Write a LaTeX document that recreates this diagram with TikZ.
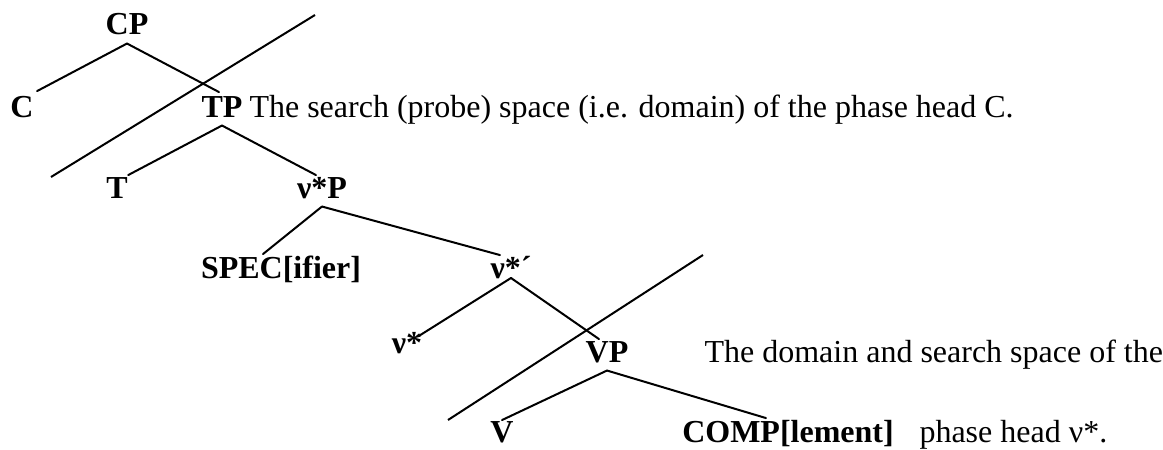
\documentclass[tikz,border=0pt,12pt]{standalone}
\usepackage{fontspec}
\setmainfont{Liberation Serif}
\usetikzlibrary{calc,positioning}
\tikzset{
  lbl/.style={font=\bfseries,inner sep=0pt,anchor=base,text height=0.7em,text depth=0.25em},
  note/.style={inner sep=0pt,anchor=base west},
  br/.style={line width=0.75pt,line cap=round},
  phase/.style={line width=0.75pt}
}
\begin{document}
\begin{tikzpicture}[x=0.375pt,y=-0.375pt]
\useasboundingbox (0,0) rectangle (1163,450);
% tree labels
\node[lbl] (CP) at (127,35) {CP};
\node[lbl] (C) at (22,118) {C};
\node[lbl] (TP) at (222,117) {TP};
\node[lbl] (T) at (117,198) {T};
\node[lbl] (vP) at (322,198) {ν*P};
\node[lbl] (spec) at (281,279) {SPEC[ifier]};
\node[lbl] (vbar) at (511,278) {ν*´};
\node[lbl] (v) at (407,353) {ν*};
\node[lbl] (VP) at (607,362) {VP};
\node[lbl] (V) at (502,443) {V};
\node[lbl] (comp) at (788,443) {COMP[lement]};
% comments on the two domains
\node[note] (domC) at (249,118) {The search (probe) space (i.e. domain) of the phase head C.};
\node[note] (domv) at (704,362) {The domain and search space of the};
\node[note] (headv) at (919,443) {phase head ν*.};
% branches
\draw[br] (CP.south) -- ($(C.north east)+(3,-4)$);
\draw[br] (CP.south) -- ($(TP.north)+(-3,-2)$);
\draw[br] (TP.south) -- (T.north east);
\draw[br] (TP.south) -- ($(vP.north)+(-6,0)$);
\draw[br] (vP.south) -- ($(spec.north)+(-18,-2)$);
\draw[br] (vP.south) -- ($(vbar.north)+(-11,0)$);
\draw[br] (vbar.base) -- ($(v.north east)+(-4,6)$);
\draw[br] (vbar.base) -- ($(VP.north)+(-8,0)$);
\draw[br] (VP.south) -- (V.north);
\draw[br] (VP.south) -- ($(comp.north)+(-22,-2)$);
% phase boundaries
\coordinate (ph1a) at (51,177);
\coordinate (ph1b) at (315,15);
\coordinate (ph2a) at (448,420);
\coordinate (ph2b) at (703,255);
\draw[phase] (ph1a) -- (ph1b);
\draw[phase] (ph2a) -- (ph2b);
\end{tikzpicture}
\end{document}
